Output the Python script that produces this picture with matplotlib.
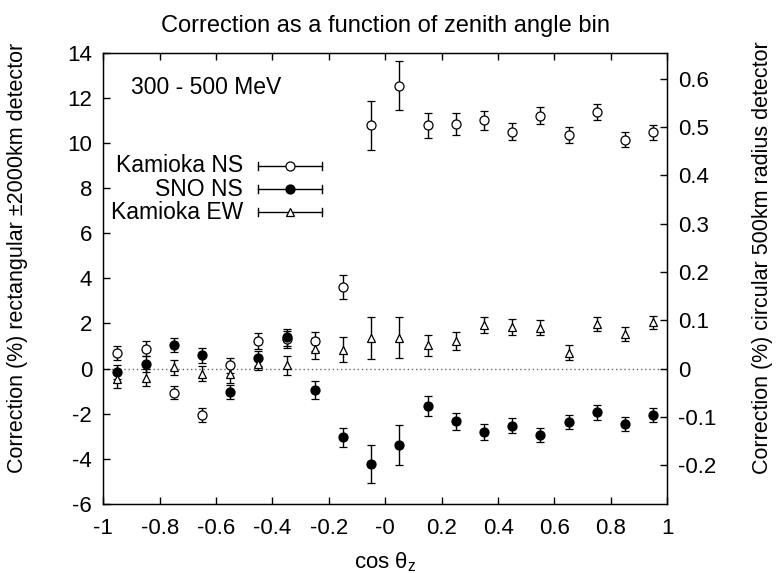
import matplotlib
matplotlib.use('Agg')
import matplotlib.pyplot as plt
import numpy as np
from matplotlib.ticker import FuncFormatter

plt.rcParams['font.family'] = ['Liberation Sans', 'DejaVu Sans']
plt.rcParams['mathtext.fontset'] = 'custom'
plt.rcParams['mathtext.rm'] = 'Liberation Sans'

# bin centres in cos(theta_z)
cosz = [-0.95, -0.85, -0.75, -0.65, -0.55, -0.45, -0.35, -0.25, -0.15, -0.05,
        0.05, 0.15, 0.25, 0.35, 0.45, 0.55, 0.65, 0.75, 0.85, 0.95]

kam_ns = [0.68, 0.89, -1.06, -2.05, 0.15, 1.23, 1.30, 1.21, 3.62, 10.78,
          12.54, 10.78, 10.84, 11.00, 10.50, 11.21, 10.36, 11.37, 10.15, 10.47]
kam_ns_err = [0.32, 0.33, 0.30, 0.32, 0.33, 0.36, 0.38, 0.43, 0.52, 1.08,
              1.10, 0.55, 0.47, 0.42, 0.38, 0.37, 0.35, 0.35, 0.33, 0.32]

sno_ns = [-0.14, 0.21, 1.05, 0.59, -1.04, 0.45, 1.39, -0.94, -3.05, -4.23,
          -3.39, -1.66, -2.34, -2.81, -2.53, -2.93, -2.36, -1.94, -2.47, -2.06]
sno_ns_err = [0.30, 0.37, 0.31, 0.32, 0.31, 0.34, 0.38, 0.39, 0.44, 0.86,
              0.87, 0.46, 0.38, 0.35, 0.33, 0.32, 0.32, 0.32, 0.31, 0.31]

kam_ew = [-0.44, -0.40, 0.05, -0.22, -0.25, 0.20, 0.15, 0.89, 0.83, 1.35,
          1.37, 1.03, 1.23, 1.92, 1.86, 1.82, 0.71, 1.96, 1.52, 2.05]
kam_ew_err = [0.40, 0.37, 0.35, 0.35, 0.40, 0.25, 0.43, 0.46, 0.55, 0.92,
              0.92, 0.48, 0.41, 0.36, 0.35, 0.33, 0.32, 0.31, 0.31, 0.30]

labels = ['Kamioka NS', 'SNO NS', 'Kamioka EW']
right_scale = 21.4  # left units per right unit

fig = plt.figure(figsize=(7.76, 5.73), dpi=100)
ax = fig.add_axes([0.1331, 0.1204, 0.7268, 0.7876])

ax.axhline(0, color='0.4', lw=1, ls=(0, (1, 2)), zorder=1)

series = [(kam_ns, kam_ns_err, 'o', 'white'),
          (sno_ns, sno_ns_err, 'o', 'black'),
          (kam_ew, kam_ew_err, '^', 'white')]
for (vals, errs, mk, fc) in series:
    ax.errorbar(cosz, vals, yerr=errs, fmt=mk, mfc=fc, mec='black', ms=6.5 if mk == 'o' else 6,
                mew=0.9, ecolor='black', elinewidth=1, capsize=3, capthick=1, zorder=3)

ax.set_xlim(-1, 1)
ax.set_ylim(-6, 14)
ax.set_xticks(np.arange(-1, 1.01, 0.2))
ax.set_yticks(np.arange(-6, 14.1, 2))
fmt = FuncFormatter(lambda v, p: '%g' % round(v, 3))
ax.xaxis.set_major_formatter(fmt)
ax.yaxis.set_major_formatter(fmt)
ax.tick_params(direction='in', length=5, width=1, labelsize=16, top=True)
ax.tick_params(axis='x', pad=10)
ax.tick_params(axis='y', pad=8)
for s in ax.spines.values():
    s.set_linewidth(1)

ax2 = ax.twinx()
ax2.set_ylim(-6 / right_scale, 14 / right_scale)
ax2.set_yticks(np.arange(-0.2, 0.61, 0.1))
ax2.yaxis.set_major_formatter(fmt)
ax2.tick_params(direction='in', length=5, width=1, labelsize=16, pad=8)

ax.set_title('Correction as a function of zenith angle bin', fontsize=17, pad=15)
ax.set_xlabel(r'cos $\mathregular{θ_z}$', fontsize=16, labelpad=8)
ax.set_ylabel('Correction (%) rectangular ±2000km detector', fontsize=15.5)
ax2.set_ylabel('Correction (%) circular 500km radius detector', fontsize=15.5)
ax.yaxis.set_label_coords(-0.1335, 0.545)
ax2.yaxis.set_label_coords(1.150, 0.545)

ax.text(0.182, 0.922, '300 - 500 MeV', transform=ax.transAxes, fontsize=16.5,
        ha='center', va='center')

# gnuplot style key
key_y = [0.749, 0.698, 0.647]
for (vals, errs, mk, fc), lab, ky in zip(series, labels, key_y):
    ax.text(0.248, ky, lab, transform=ax.transAxes, fontsize=16.5, ha='right', va='center')
    ax.plot([0.274, 0.388], [ky, ky], color='black', lw=1, transform=ax.transAxes)
    ax.plot([0.274, 0.274], [ky - 0.008, ky + 0.008], color='black', lw=1, transform=ax.transAxes)
    ax.plot([0.388, 0.388], [ky - 0.008, ky + 0.008], color='black', lw=1, transform=ax.transAxes)
    ax.plot([0.331], [ky], marker=mk, mfc=fc, mec='black', ms=6.5 if mk == 'o' else 6,
            mew=0.9, transform=ax.transAxes)

fig.savefig('out.png', dpi=100)
